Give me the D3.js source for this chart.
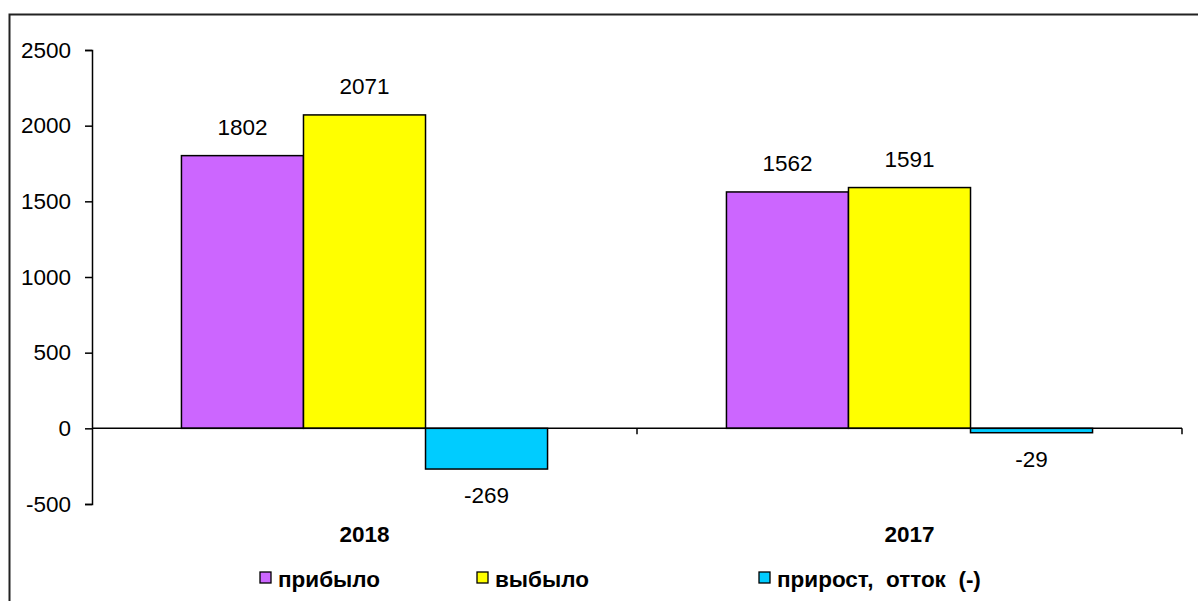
<!DOCTYPE html>
<html>
<head>
<meta charset="utf-8">
<script src="https://cdn.jsdelivr.net/npm/d3@7"></script>
<style>
  body { margin: 0; background: #fff; }
  text { font-family: "Liberation Sans", Arial, sans-serif; }
</style>
</head>
<body>
<svg id="chart" width="1198" height="601"></svg>
<script>
// values
var years = ["2018", "2017"];
var seriesNames = ["прибыло", "выбыло", "прирост,  отток  (-)"];
var seriesColors = ["#cc66ff", "#ffff00", "#00ccff"];
var arrived = [1802, 1562];
var departed = [2071, 1591];
var growth = [-269, -29];
var yTicks = [-500, 0, 500, 1000, 1500, 2000, 2500];

var svg = d3.select("#chart");
var fontFam = "Liberation Sans, Arial, sans-serif";

// outer frame (runs off the right and bottom edge like the original)
svg.append("path")
    .attr("d", "M9.5,601 L9.5,14.5 L1198,14.5")
    .attr("fill", "none")
    .attr("stroke", "#222")
    .attr("stroke-width", 2);

var plot = { left: 92, right: 1182, top: 50, bottom: 504 };

var y = d3.scaleLinear()
    .domain([-500, 2500])
    .range([plot.bottom, plot.top]);

var x0 = d3.scaleBand()
    .domain(years)
    .range([plot.left, plot.right])
    .paddingInner(0)
    .paddingOuter(0);

var x1 = d3.scaleBand()
    .domain([0, 1, 2])
    .range([0, x0.bandwidth()])
    .paddingInner(0)
    .paddingOuter(0.733);

// y axis
var yAxis = d3.axisLeft(y)
    .tickValues(yTicks)
    .tickFormat(d => String(d))
    .tickSize(7)
    .tickPadding(14);
var yg = svg.append("g")
    .attr("transform", "translate(" + plot.left + ",0)")
    .call(yAxis);
yg.select(".domain").attr("stroke-width", 1.5);
yg.selectAll(".tick line").attr("stroke-width", 1.5);
yg.selectAll("text").attr("font-size", 22.5).attr("fill", "#000")
    .attr("font-family", fontFam);

var rows = years.map(function(yr, i) {
    return { year: yr, vals: [arrived[i], departed[i], growth[i]] };
});

var groups = svg.selectAll("g.year")
    .data(rows)
    .enter().append("g")
    .attr("class", "year")
    .attr("transform", d => "translate(" + x0(d.year) + ",0)");

groups.selectAll("rect")
    .data(d => d.vals)
    .enter().append("rect")
    .attr("x", (d, i) => x1(i))
    .attr("width", x1.bandwidth())
    .attr("y", d => y(Math.max(0, d)))
    .attr("height", d => Math.abs(y(d) - y(0)))
    .attr("fill", (d, i) => seriesColors[i])
    .attr("stroke", "#000")
    .attr("stroke-width", 1.5);

groups.selectAll("text.val")
    .data(d => d.vals)
    .enter().append("text")
    .attr("class", "val")
    .attr("x", (d, i) => x1(i) + x1.bandwidth() / 2)
    .attr("y", d => d >= 0 ? y(d) - 21 : y(d) + 34)
    .attr("text-anchor", "middle")
    .attr("font-size", 22.5)
    .text(d => d);

// zero line (x axis) with category ticks
var xg = svg.append("g");
xg.append("line")
    .attr("x1", plot.left).attr("x2", plot.right)
    .attr("y1", y(0)).attr("y2", y(0))
    .attr("stroke", "#000").attr("stroke-width", 1.5);
xg.selectAll("line.tick")
    .data(years)
    .enter().append("line")
    .attr("class", "tick")
    .attr("x1", d => x0(d) + x0.bandwidth())
    .attr("x2", d => x0(d) + x0.bandwidth())
    .attr("y1", y(0)).attr("y2", y(0) + 6)
    .attr("stroke", "#000").attr("stroke-width", 1.5);

svg.selectAll("text.cat")
    .data(years)
    .enter().append("text")
    .attr("class", "cat")
    .attr("x", d => x0(d) + x0.bandwidth() / 2)
    .attr("y", 542)
    .attr("text-anchor", "middle")
    .attr("font-size", 22.5)
    .attr("font-weight", "bold")
    .text(d => d);

// legend
var legendX = [260, 477, 759];
var leg = svg.selectAll("g.leg")
    .data(seriesNames)
    .enter().append("g")
    .attr("class", "leg")
    .attr("transform", (d, i) => "translate(" + legendX[i] + ",572)");
leg.append("rect")
    .attr("width", 11).attr("height", 11)
    .attr("fill", (d, i) => seriesColors[i])
    .attr("stroke", "#000").attr("stroke-width", 1.3);
leg.append("text")
    .attr("x", 18).attr("y", 15)
    .attr("font-size", 22.5)
    .attr("font-weight", "bold")
    .style("white-space", "pre")
    .text(d => d);
</script>
</body>
</html>
